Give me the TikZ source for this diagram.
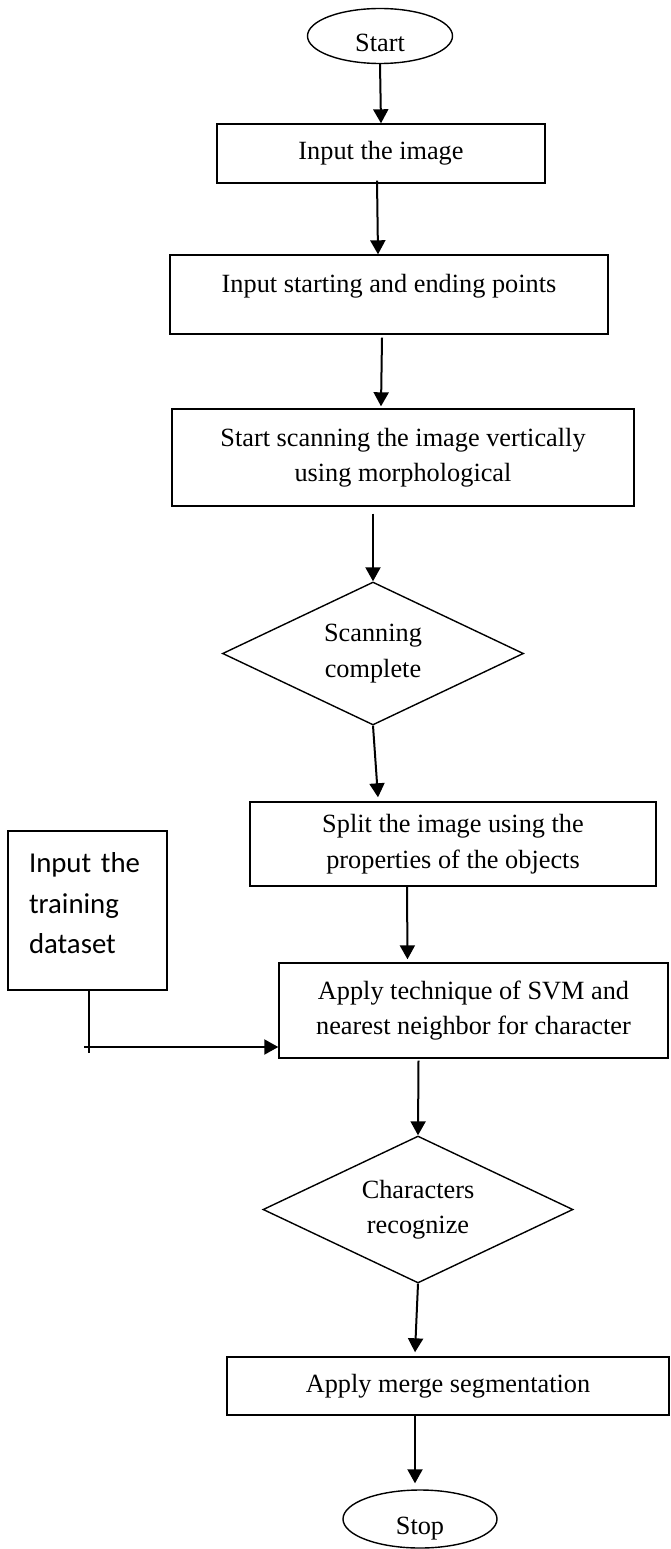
\documentclass[tikz,border=0pt]{standalone}
\usepackage{fontspec}
\setmainfont{Liberation Serif}
\newfontfamily\trainfont{Carlito}
\usepackage{tikz}
\usetikzlibrary{arrows.meta, shapes.geometric, calc}
\tikzset{
  step_text/.style={font=\fontsize{26.3}{35.5}\selectfont},
  box_step/.style={step_text, draw=black, line width=1.4pt, rectangle, inner sep=0pt, align=center},
  term_node/.style={step_text, draw=black, line width=1.4pt, ellipse, inner sep=0pt, text height=31pt, text depth=0pt},
  decision_node/.style={step_text, draw=black, line width=1.4pt, diamond, aspect=2.1, inner sep=0pt, align=center},
  train_box/.style={draw=black, line width=1.4pt, rectangle, font=\trainfont\fontsize{28.8}{40.5}\selectfont, align=left, text width=117pt, inner xsep=21pt, inner ysep=0pt},
  flow_arrow/.style={line width=2pt, -{Triangle[length=14pt, width=15pt]}},
  flow_line/.style={line width=1.6pt}
}
\begin{document}
\begin{tikzpicture}[x=1pt, y=-1pt]
\useasboundingbox (0,0) rectangle (671,1549);
\node[term_node, minimum width=145pt, minimum height=55pt] (start_node) at (380,36) {Start};
\node[box_step, minimum width=328pt, minimum height=59pt] (img_node) at (381,153.5) {Input the image};
\node[box_step, minimum width=438pt, minimum height=79pt, text depth=23pt] (pts_node) at (389,294.5) {Input starting and ending points};
\node[box_step, minimum width=462pt, minimum height=97pt] (scan_node) at (403,457.5) {Start scanning the image vertically\\using morphological};
\node[decision_node, minimum width=301pt, minimum height=143pt] (dia1_node) at (373,653.5) {Scanning\\complete};
\node[box_step, minimum width=406pt, minimum height=84pt] (split_node) at (453,844) {Split the image using the\\properties of the objects};
\node[train_box, minimum width=159pt, minimum height=159pt, text depth=96pt] (train_node) at (87.5,910.5) {Input the\\training\\dataset};
\node[box_step, minimum width=389pt, minimum height=95pt] (svm_node) at (473.5,1010.5) {Apply technique of SVM and\\nearest neighbor for character};
\node[decision_node, minimum width=310pt, minimum height=147pt] (dia2_node) at (418,1209.5) {Characters\\recognize};
\node[box_step, minimum width=442pt, minimum height=58pt] (merge_node) at (448,1386) {Apply merge segmentation};
\node[term_node, minimum width=154pt, minimum height=58pt] (stop_node) at (420,1519) {Stop};
\coordinate (train_foot) at (89,1053);
\coordinate (feed_start) at (84,1047);
\draw[flow_arrow] (start_node.south) -- (img_node.north);
\draw[flow_arrow] ($(img_node.south)+(-4,-3)$) -- ($(pts_node.north)+(-11,0)$);
\draw[flow_arrow] ($(pts_node.south)+(-7,3)$) -- ($(scan_node.north)+(-22,-2)$);
\draw[flow_arrow] ($(scan_node.south)+(-30,7)$) -- (dia1_node.north);
\draw[flow_arrow] (dia1_node.south) -- ($(split_node.north)+(-75,-4)$);
\draw[flow_arrow] ($(split_node.south)+(-46,0)$) -- ($(svm_node.north)+(-66,-3)$);
\draw[flow_arrow] ($(svm_node.south)+(-55,2)$) -- (dia2_node.north);
\draw[flow_arrow] (dia2_node.south) -- ($(merge_node.north)+(-33,-4)$);
\draw[flow_arrow] ($(merge_node.south)+(-33,0)$) -- ($(stop_node.north)+(-5,-6)$);
\draw[flow_line] (train_node.south -| train_foot) -- (train_foot);
\draw[flow_arrow] (feed_start) -- (feed_start -| svm_node.west);
\end{tikzpicture}
\end{document}
